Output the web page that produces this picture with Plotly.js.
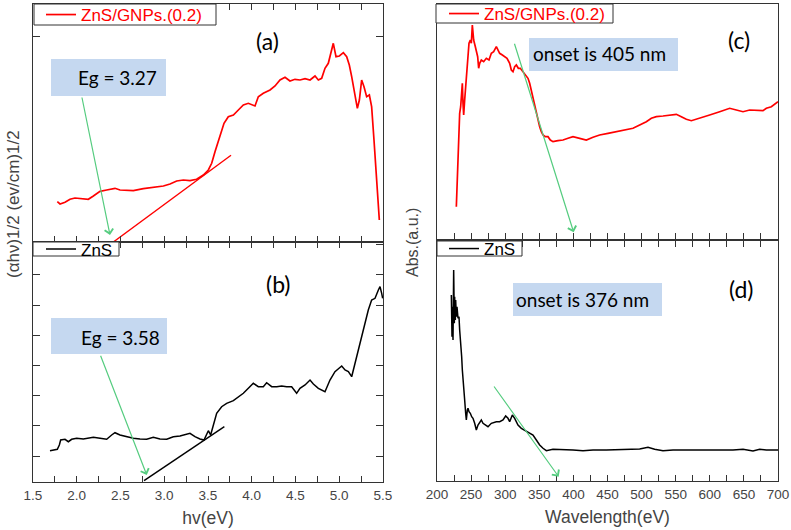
<!DOCTYPE html>
<html>
<head>
<meta charset="utf-8">
<script src="https://cdn.plot.ly/plotly-3.0.1.min.js"></script>
<style>html,body{margin:0;padding:0;background:#fff}#chart{width:791px;height:530px}</style>
</head>
<body>
<div id="chart"></div>
<script>
// ---------- DATA ----------
// Panel (a): ZnS/GNPs.(0.2), (αhν)^1/2 vs hν
const hvA = [1.778,1.809,1.866,1.923,1.98,2.056,2.132,2.19,2.266,2.342,2.437,2.494,2.57,2.647,2.761,2.875,2.99,3.066,3.142,3.218,3.294,3.37,3.447,3.504,3.542,3.58,3.63,3.683,3.732,3.79,3.847,3.904,3.961,4.037,4.075,4.132,4.209,4.266,4.323,4.38,4.437,4.494,4.551,4.609,4.666,4.723,4.761,4.799,4.837,4.875,4.932,4.963,5.001,5.047,5.085,5.115,5.142,5.169,5.207,5.23,5.256,5.283,5.313,5.344,5.37,5.397,5.42,5.439,5.458];
const yA  = [0.403,0.38,0.397,0.427,0.44,0.433,0.427,0.46,0.507,0.52,0.537,0.52,0.513,0.513,0.533,0.547,0.56,0.58,0.61,0.62,0.613,0.627,0.67,0.72,0.787,0.903,1.053,1.187,1.253,1.27,1.32,1.37,1.387,1.36,1.453,1.487,1.52,1.56,1.62,1.647,1.61,1.627,1.62,1.633,1.62,1.66,1.62,1.637,1.737,1.787,1.987,1.853,1.86,1.893,1.853,1.77,1.653,1.537,1.337,1.42,1.62,1.553,1.453,1.47,1.353,1.02,0.687,0.387,0.22];
const tanAx = [2.418, 3.763];
const tanAy = [0.0, 0.867];

// Panel (b): ZnS
const hvB = [1.694,1.778,1.801,1.816,1.866,1.904,1.942,1.999,2.075,2.19,2.266,2.342,2.399,2.437,2.494,2.57,2.647,2.723,2.799,2.875,2.951,3.028,3.104,3.18,3.237,3.294,3.351,3.408,3.454,3.485,3.504,3.53,3.561,3.599,3.656,3.713,3.79,3.847,3.904,3.961,4.018,4.075,4.132,4.17,4.228,4.285,4.342,4.399,4.456,4.513,4.551,4.609,4.666,4.704,4.761,4.837,4.894,4.951,4.99,5.028,5.066,5.104,5.142,5.18,5.237,5.294,5.332,5.37,5.409,5.447,5.466,5.485,5.496];
const yB  = [0.313,0.327,0.37,0.42,0.427,0.403,0.427,0.437,0.43,0.447,0.437,0.427,0.47,0.493,0.47,0.453,0.437,0.43,0.427,0.447,0.43,0.427,0.453,0.46,0.477,0.487,0.453,0.43,0.42,0.47,0.513,0.47,0.57,0.687,0.753,0.787,0.813,0.847,0.887,0.937,0.987,0.953,0.953,0.993,0.953,0.953,0.96,0.953,0.953,0.887,0.937,0.97,1.02,0.98,0.937,0.903,1.02,1.103,1.137,1.16,1.12,1.103,1.053,1.187,1.387,1.573,1.72,1.82,1.837,1.92,1.953,1.887,1.837];
const tanBx = [2.769, 3.687];
const tanBy = [0.013, 0.553];

// Panel (c): ZnS/GNPs.(0.2) absorbance vs wavelength
const wlC = [228.35,229.33,230.79,232.26,233.24,234.7,235.68,237.15,238.12,239.1,240.57,241.54,243.01,245.45,246.92,248.88,250.34,251.81,252.79,253.76,256.21,257.67,259.63,261.09,262.56,265.0,268.43,272.34,276.25,279.67,283.09,287.0,289.44,291.89,295.8,299.22,302.64,306.55,308.99,311.44,313.88,316.32,319.26,322.19,326.1,330.01,333.43,335.87,339.78,343.21,346.63,350.54,352.98,355.43,358.85,362.76,366.18,370.09,377.42,384.75,392.08,399.41,409.19,418.96,428.74,438.51,450.73,462.95,475.17,487.39,497.17,506.94,514.27,521.6,531.38,541.15,550.93,558.26,565.59,572.92,580.25,590.03,599.8,614.47,629.13,638.91,648.68,658.46,668.23,678.01,682.89,690.22,700.0];
const absC = [0.323,0.523,0.923,1.057,1.257,1.323,1.39,1.557,1.357,1.24,1.39,1.49,1.623,1.89,1.957,1.99,1.957,2.14,2.04,1.99,1.923,1.89,1.823,1.707,1.757,1.79,1.773,1.807,1.79,1.857,1.873,1.923,1.89,1.857,1.84,1.823,1.807,1.757,1.69,1.673,1.723,1.74,1.707,1.707,1.673,1.64,1.607,1.557,1.44,1.323,1.223,1.123,1.073,1.04,1.023,1.023,0.99,0.973,0.983,0.99,1.007,1.023,1.007,0.99,1.017,1.04,1.057,1.073,1.09,1.107,1.14,1.173,1.207,1.223,1.23,1.24,1.247,1.223,1.197,1.183,1.197,1.223,1.24,1.273,1.307,1.29,1.273,1.29,1.29,1.283,1.307,1.323,1.373];

// Panel (d): ZnS absorbance vs wavelength
const wlD = [221.02,222.0,222.48,223.46,224.44,225.42,225.9,226.88,227.37,228.35,229.33,230.79,232.26,233.24,234.7,236.17,237.15,238.61,240.57,242.03,243.01,244.48,245.45,246.92,248.88,250.83,252.79,255.23,257.67,260.12,262.56,265.0,267.45,270.87,274.78,279.67,287.0,291.89,296.77,300.68,304.11,306.55,310.46,313.88,318.77,323.66,328.54,334.9,340.76,345.65,350.54,355.43,360.31,370.09,379.86,399.41,414.08,428.74,448.29,467.84,487.39,497.17,509.38,519.16,531.38,546.04,565.59,585.14,609.58,634.02,648.68,663.34,673.12,682.89,700.0];
const absD = [1.86,1.443,1.743,1.41,2.11,1.577,1.843,1.61,1.81,1.643,1.743,1.627,1.643,1.51,1.41,1.243,1.11,0.943,0.81,0.677,0.61,0.71,0.727,0.693,0.677,0.643,0.627,0.577,0.51,0.56,0.593,0.61,0.577,0.56,0.543,0.577,0.593,0.593,0.61,0.65,0.627,0.593,0.66,0.627,0.56,0.527,0.51,0.483,0.46,0.41,0.36,0.327,0.303,0.317,0.317,0.31,0.303,0.31,0.31,0.317,0.317,0.32,0.337,0.317,0.303,0.31,0.31,0.31,0.303,0.31,0.317,0.3,0.317,0.31,0.31];

// Series names, labels and annotation texts
const seriesNames = ['ZnS/GNPs.(0.2)', 'ZnS'];
const panelLabels = ['(a)', '(b)', '(c)', '(d)'];
const boxTexts = ['Eg = 3.27', 'Eg = 3.58', 'onset is 405 nm', 'onset is 376 nm'];
// arrow [tailX, tailY, headX, headY] in data units of each panel
const arrowA = [2.056, 1.46, 2.38, 0.07];
const arrowB = [2.266, 1.277, 2.80, 0.07];
const arrowC = [312.9, 1.967, 400.4, 0.067];
const arrowD = [282.1, 0.96, 378.4, 0.043];
const xTitleLeft = 'hv(eV)';
const xTitleRight = 'Wavelength(eV)';
const yTitleLeft = '(αhν)1/2 (ev/cm)1/2';
const yTitleRight = 'Abs.(a.u.)';

// ---------- LAYOUT HELPERS ----------
const W = 791, H = 530;
const PX = v => v / W;
const PY = v => 1 - v / H;
const RED = '#ff0000', BLACK = '#000000', GREEN = '#55cc7f', BOXC = '#c5d8f0';
const AXC = '#333333', TXC = '#444444';
const ARIAL = 'Liberation Sans, Arial, sans-serif';
const CAL = 'Lato, Carlito, Calibri, sans-serif';

const traces = [
  {x: hvA, y: yA, xaxis: 'x', yaxis: 'y', mode: 'lines', name: seriesNames[0], legend: 'legend',
   line: {color: RED, width: 1.7}},
  {x: tanAx, y: tanAy, xaxis: 'x', yaxis: 'y', mode: 'lines', showlegend: false, line: {color: RED, width: 1.4}},
  {x: hvB, y: yB, xaxis: 'x2', yaxis: 'y2', mode: 'lines', name: seriesNames[1], legend: 'legend2',
   line: {color: BLACK, width: 1.5}},
  {x: tanBx, y: tanBy, xaxis: 'x2', yaxis: 'y2', mode: 'lines', showlegend: false, line: {color: BLACK, width: 1.4}},
  {x: wlC, y: absC, xaxis: 'x3', yaxis: 'y3', mode: 'lines', name: seriesNames[0], legend: 'legend3',
   line: {color: RED, width: 1.7}},
  {x: wlD, y: absD, xaxis: 'x4', yaxis: 'y4', mode: 'lines', name: seriesNames[1], legend: 'legend4',
   line: {color: BLACK, width: 1.5}}
];

function xax(extra) {
  return Object.assign({
    showline: true, linecolor: AXC, linewidth: 1.3, showgrid: false, zeroline: false,
    ticks: 'inside', ticklen: 6, tickcolor: AXC, tickwidth: 1,
    tickfont: {family: ARIAL, size: 13.5, color: TXC}
  }, extra);
}
function yax(extra) {
  return Object.assign({
    showline: true, linecolor: AXC, linewidth: 1.3, showgrid: false, zeroline: false,
    ticks: 'inside', ticklen: 7, tickcolor: AXC, tickwidth: 1, showticklabels: false
  }, extra);
}
const L = [PX(33), PX(383)], R = [PX(437), PX(778)];

// legend entries are centred in the frame boxes drawn below
function legendCfg(x, yCenter, color) {
  return {x: PX(x), y: PY(yCenter - 17.5), xanchor: 'left', yanchor: 'top', bgcolor: 'rgba(0,0,0,0)',
    borderwidth: 0, tracegroupgap: 0,
    font: {family: ARIAL, size: 17, color: color}};
}

function boxShape(x0, y0, x1, y1, fill, lineW) {
  return {type: 'rect', xref: 'paper', yref: 'paper', x0: PX(x0), x1: PX(x1), y0: PY(y1), y1: PY(y0),
    fillcolor: fill, line: {width: lineW, color: AXC}, layer: 'above'};
}
function txt(text, x, y, size, extra) {
  return Object.assign({text: text, xref: 'paper', yref: 'paper', x: PX(x), y: PY(y),
    xanchor: 'center', yanchor: 'middle', showarrow: false,
    font: {family: CAL, size: size, color: '#000'}}, extra || {});
}
function arrow(a, xr, yr) {
  return {xref: xr, yref: yr, axref: xr, ayref: yr, x: a[2], y: a[3], ax: a[0], ay: a[1],
    text: '', showarrow: true, arrowhead: 4, arrowsize: 1.4, arrowwidth: 1.2, arrowcolor: GREEN, standoff: 0};
}

const layout = {
  width: W, height: H,
  margin: {l: 0, r: 0, t: 0, b: 0, autoexpand: false},
  paper_bgcolor: '#ffffff', plot_bgcolor: '#ffffff',
  showlegend: true,
  xaxis: xax({domain: L, anchor: 'y', range: [1.5, 5.5], tick0: 1.5, dtick: 0.5, showticklabels: false, mirror: 'ticks',
    minor: {dtick: 0.25, ticks: 'inside', ticklen: 6, tickcolor: AXC}}),
  yaxis: yax({domain: [PY(242), PY(4)], anchor: 'x', range: [0, 2.38], tickvals: [2.06], mirror: 'ticks'}),
  xaxis2: xax({domain: L, anchor: 'y2', range: [1.5, 5.5], tick0: 1.5, dtick: 0.5, tickformat: '.1f', mirror: 'ticks',
    minor: {dtick: 0.25, ticks: 'inside', ticklen: 6, tickcolor: AXC},
    title: {text: xTitleLeft, font: {family: ARIAL, size: 17.5, color: TXC}, standoff: 10}}),
  yaxis2: yax({domain: [PY(482), PY(242)], anchor: 'x2', range: [0, 2.40], tick0: 0.26, dtick: 0.302, mirror: 'ticks'}),
  xaxis3: xax({domain: R, anchor: 'y3', range: [200, 700], tick0: 200, dtick: 50, showticklabels: false, mirror: true,
    minor: {dtick: 25, ticks: 'inside', ticklen: 6, tickcolor: AXC}}),
  yaxis3: yax({domain: [PY(239), PY(4)], anchor: 'x3', range: [0, 2.35], ticks: '', mirror: true}),
  xaxis4: xax({domain: R, anchor: 'y4', range: [200, 700], tick0: 200, dtick: 50, mirror: 'ticks',
    minor: {dtick: 25, ticks: 'inside', ticklen: 6, tickcolor: AXC},
    title: {text: xTitleRight, font: {family: ARIAL, size: 17.5, color: TXC}, standoff: 10}}),
  yaxis4: yax({domain: [PY(481), PY(241)], anchor: 'x4', range: [0, 2.40], ticks: '', mirror: true}),
  legend: legendCfg(41, 14.5, RED),
  legend2: legendCfg(41, 249, BLACK),
  legend3: legendCfg(444, 13.5, RED),
  legend4: legendCfg(444, 248.5, BLACK),
  shapes: [
    // legend frames
    boxShape(34, 4, 216, 25, '#ffffff', 1),
    boxShape(33, 242, 119, 256, '#ffffff', 1),
    boxShape(436, 4, 613, 23, '#ffffff', 1),
    boxShape(437, 241, 522, 256, '#ffffff', 1),
    // annotation boxes
    boxShape(51, 59, 166, 96, BOXC, 0),
    boxShape(51, 318, 167, 354, BOXC, 0),
    boxShape(529, 38, 678, 71, BOXC, 0),
    boxShape(513, 283, 662, 316, BOXC, 0)
  ],
  annotations: [
    txt(boxTexts[0], 118, 78, 19),
    txt(boxTexts[1], 120, 337, 19),
    txt(boxTexts[2], 599, 54, 19),
    txt(boxTexts[3], 582, 299, 19),
    txt(panelLabels[0], 267, 41, 23),
    txt(panelLabels[1], 278, 284, 23),
    txt(panelLabels[2], 739, 40, 23),
    txt(panelLabels[3], 741, 289, 23),
    arrow(arrowA, 'x', 'y'),
    arrow(arrowB, 'x2', 'y2'),
    arrow(arrowC, 'x3', 'y3'),
    arrow(arrowD, 'x4', 'y4'),
    txt(yTitleLeft, 13, 204, 17, {textangle: -90, font: {family: ARIAL, size: 17, color: TXC}}),
    txt(yTitleRight, 412, 243, 16, {textangle: -90, font: {family: ARIAL, size: 16, color: TXC}})
  ]
};

Plotly.newPlot('chart', traces, layout, {staticPlot: true, displayModeBar: false});
</script>
</body>
</html>
